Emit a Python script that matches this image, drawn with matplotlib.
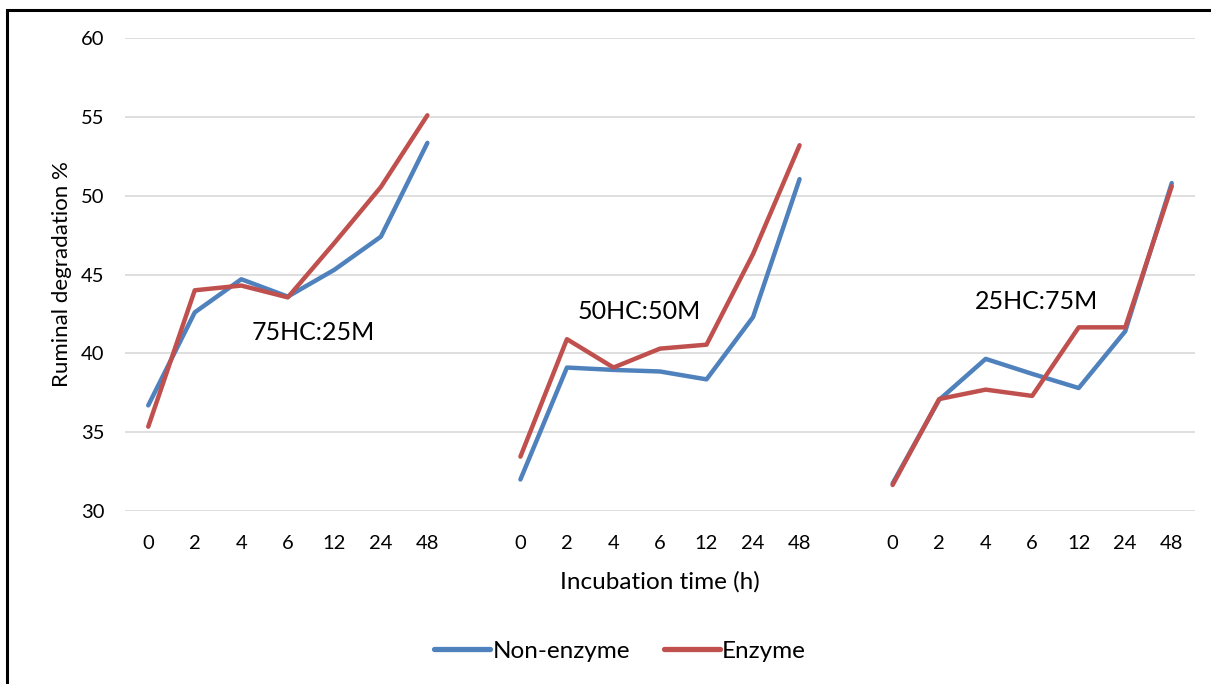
import numpy as np
import matplotlib.pyplot as plt
from matplotlib.patches import Rectangle

# incubation times (h) repeated for each diet
hours = ['0', '2', '4', '6', '12', '24', '48']
groups = ['75HC:25M', '50HC:50M', '25HC:75M']

non_enzyme_75 = [36.7, 42.6, 44.7, 43.6, 45.3, 47.4, 53.35]
non_enzyme_50 = [32.0, 39.1, 38.95, 38.85, 38.35, 42.3, 51.05]
non_enzyme_25 = [31.75, 37.05, 39.65, 38.7, 37.8, 41.4, 50.8]

enzyme_75 = [35.35, 44.0, 44.3, 43.55, 47.0, 50.55, 55.1]
enzyme_50 = [33.45, 40.9, 39.1, 40.3, 40.55, 46.3, 53.2]
enzyme_25 = [31.65, 37.1, 37.7, 37.3, 41.65, 41.65, 50.6]

# label position (category index, value) for each diet
label_x = [3.55, 10.55, 19.1]
label_y = [41.3, 42.65, 43.3]

BLUE = '#4F81BD'
RED = '#C0504D'

plt.rcParams['font.family'] = ['Lato', 'DejaVu Sans']

fig = plt.figure(figsize=(12.11, 6.84), dpi=100)
ax = fig.add_axes([0.1032, 0.2529, 0.8836, 0.6915])

# outer frame like the Excel chart border
fig.patches.append(Rectangle((7 / 1211, -0.05), 1.2, 1 - 10 / 684 + 0.05,
                             transform=fig.transFigure, fill=False,
                             edgecolor='black', linewidth=2.2))

n = len(hours)
ne_all = [non_enzyme_75, non_enzyme_50, non_enzyme_25]
en_all = [enzyme_75, enzyme_50, enzyme_25]
ticks, ticklabels = [], []
for g in range(3):
    x = np.arange(n) + g * (n + 1)
    ax.plot(x, ne_all[g], color=BLUE, lw=3.2, solid_capstyle='round',
            solid_joinstyle='round', label='Non-enzyme' if g == 0 else None)
    ax.plot(x, en_all[g], color=RED, lw=3.2, solid_capstyle='round',
            solid_joinstyle='round', label='Enzyme' if g == 0 else None)
    ticks.extend(x)
    ticklabels.extend(hours)
    ax.text(label_x[g], label_y[g], groups[g], fontsize=18, ha='center', va='center')

ax.set_xlim(-0.5, 3 * n + 1.5)
ax.set_ylim(30, 60)
ax.set_yticks(np.arange(30, 61, 5))
ax.set_xticks(ticks)
ax.set_xticklabels(ticklabels)
ax.tick_params(axis='both', length=0, labelsize=14.5)
ax.tick_params(axis='x', pad=17)
ax.tick_params(axis='y', pad=15)
ax.grid(axis='y', color='#D9D9D9', lw=1.2)
ax.set_axisbelow(True)
for s in ax.spines.values():
    s.set_visible(False)

ax.set_xlabel('Incubation time (h)', fontsize=17.5, labelpad=14)
ax.set_ylabel('Ruminal degradation %', fontsize=16, labelpad=6)

leg = fig.legend(loc='center', bbox_to_anchor=(0.512, 0.048), ncol=2, frameon=False,
                 fontsize=17.5, handlelength=2.3, handletextpad=0.1, columnspacing=1.4)
for h in leg.get_lines():
    h.set_linewidth(3.8)

fig.savefig('out.png', dpi=100)
